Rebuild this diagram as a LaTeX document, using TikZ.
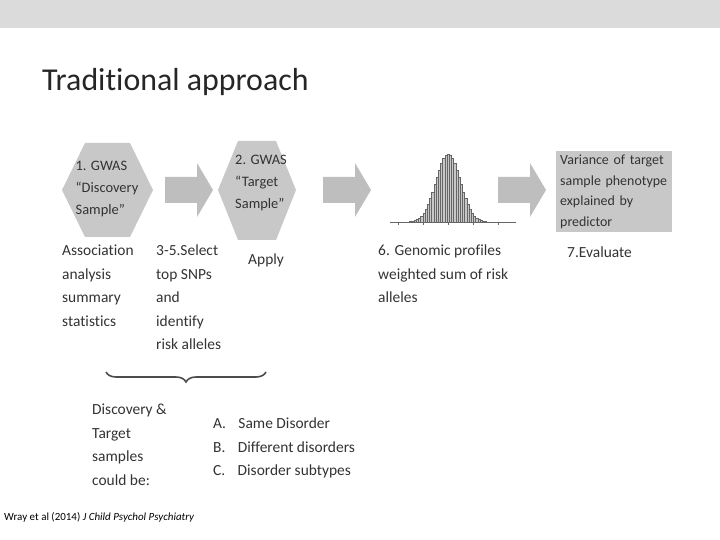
\documentclass[tikz,border=0pt]{standalone}
\usepackage{fontspec}
\setmainfont{Carlito}[Ligatures=NoCommon]
\usetikzlibrary{decorations.pathreplacing}
\begin{document}
\begin{tikzpicture}[x=1bp,y=-1bp,
  hex/.style={fill=hexgray},
  lbl/.style={anchor=north west,align=left,font=\fontsize{15.5}{23.5}\selectfont,text=black!80,inner sep=0},
  arr/.style={fill=arrgray}]
\definecolor{hexgray}{RGB}{200,200,200}
\definecolor{arrgray}{RGB}{190,190,190}
\useasboundingbox (0,0) rectangle (720,540);
\fill[black!14] (0,0) rectangle (720,28);
\node[anchor=west,inner sep=0,font=\fontsize{32}{38}\selectfont,text=black!85] (title) at (42,82) {Traditional approach};
% hexagons
\fill[hex] (62,190)--(85,143)--(130,143)--(153,190)--(130,237)--(85,237)--cycle;
\node[align=left,font=\fontsize{14.5}{22}\selectfont,text=black!80] (h1) at (107,189) {1. GWAS\\“Discovery\\Sample”};
\fill[hex] (218,190)--(238,141)--(276,141)--(296,190)--(276,240)--(238,240)--cycle;
\node[align=left,font=\fontsize{14.5}{22}\selectfont,text=black!80] (h2) at (261,183) {2. GWAS\\“Target\\Sample”};
% arrows
\foreach \a in {165,323,498}{
  \fill[arr] (\a,177)--(\a+32,177)--(\a+32,163)--(\a+48,190)--(\a+32,217)--(\a+32,203)--(\a,203)--cycle;}
% histogram
\draw[black!60] (390,222)--(516,222);
\foreach \t in {398,423,448,473,498} \draw[black!60] (\t,222)--(\t,225);
\foreach \i in {-20,...,20}{
  \pgfmathsetmacro{\h}{68*exp(-(\i*\i)/(2*5.5*5.5))}
  \draw[black!60,fill=black!22,line width=0.3pt] (448+\i*2.2-1.1,222) rectangle (448+\i*2.2+1.1,222-\h);}
% box
\node[fill=hexgray,anchor=north west,minimum width=115bp,minimum height=80bp,inner sep=4bp,align=left,text width=108bp,font=\fontsize{14}{20.5}\selectfont,text=black!80] (box) at (556,151) {Variance of target\\sample phenotype\\explained by\\predictor};
% labels
\node[lbl] (l1) at (62,245) {Association\\analysis\\summary\\statistics};
\node[lbl] (l2) at (156,245) {3-5.Select\\top SNPs\\and\\identify\\risk alleles};
\node[lbl] (l3) at (248,254) {Apply};
\node[lbl] (l4) at (378,245) {6. Genomic profiles\\weighted sum of risk\\alleles};
\node[lbl] (l5) at (567,247) {7.Evaluate};
\draw[decorate,decoration={brace,amplitude=10bp},black!70,line width=1.6pt] (266,372) -- (106,372);
\node[lbl] (l6) at (92,404) {Discovery \&\\Target\\samples\\could be:};
\node[lbl] (l7) at (213,418) {A.\hspace{0.8em}Same Disorder\\B.\hspace{0.8em}Different disorders\\C.\hspace{0.8em}Disorder subtypes};
\node[anchor=west,inner sep=0,font=\fontsize{11}{13}\selectfont] (cite) at (4,517) {Wray et al (2014) \textit{J Child Psychol Psychiatry}};
\end{tikzpicture}
\end{document}
